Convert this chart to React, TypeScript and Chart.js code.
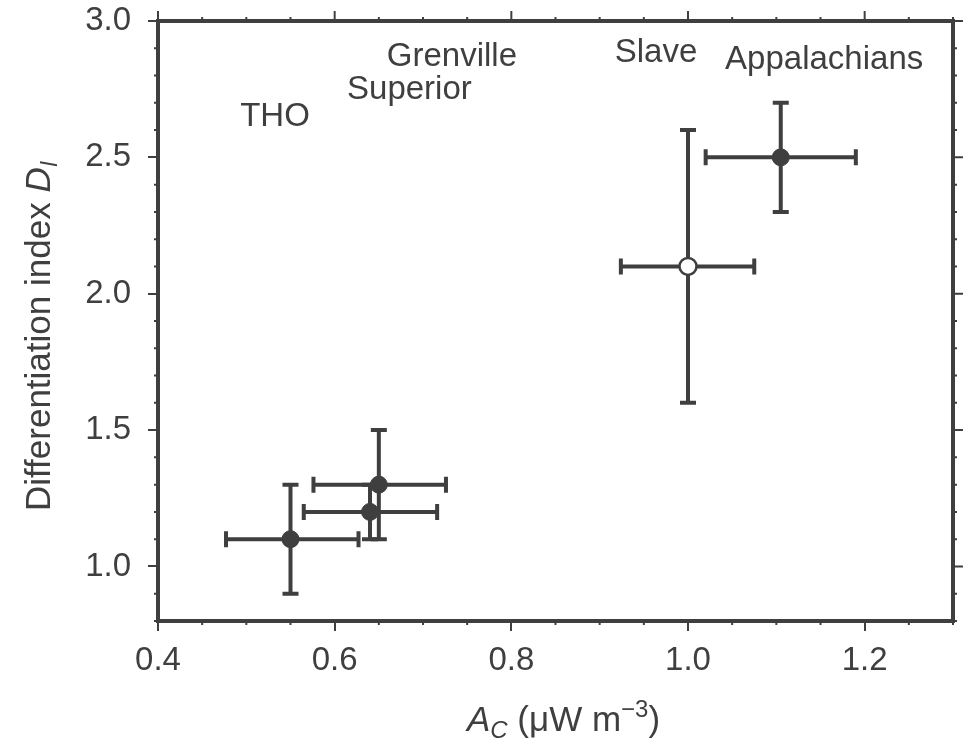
import React, { useEffect, useRef } from 'react';
import { Chart, registerables } from 'chart.js';

Chart.register(...registerables);

// ---- data ----
const regionNames = ['THO', 'Superior', 'Grenville', 'Slave', 'Appalachians'];
const acValues = [0.55, 0.64, 0.65, 1.0, 1.105];
const diValues = [1.1, 1.2, 1.3, 2.1, 2.5];
const acLow = [0.477, 0.565, 0.576, 0.924, 1.02];
const acHigh = [0.627, 0.716, 0.726, 1.075, 1.19];
const diLow = [0.9, 1.1, 1.1, 1.6, 2.3];
const diHigh = [1.3, 1.3, 1.5, 2.6, 2.7];
const openMarker = [false, false, false, true, false];

const labelTexts = ['THO', 'Grenville', 'Superior', 'Slave', 'Appalachians'];
const labelAc = [0.493, 0.659, 0.614, 0.917, 1.042];
const labelDi = [2.614, 2.835, 2.714, 2.85, 2.824];

const xTickValues = [0.4, 0.6, 0.8, 1.0, 1.2];
const yTickValues = [1.0, 1.5, 2.0, 2.5, 3.0];
const xMinorStep = 0.05;
const yMinorStep = 0.1;

const INK = '#3f3f3f';
const FONT = '"Liberation Sans", Arial, Helvetica, sans-serif';

const decorPlugin = {
  id: 'decor',
  beforeDatasetsDraw(chart: any) {
    const ctx = chart.ctx;
    const xs = chart.scales.x;
    const ys = chart.scales.y;
    ctx.save();
    ctx.strokeStyle = INK;
    ctx.lineWidth = 4;
    const cap = 8;
    for (let i = 0; i < acValues.length; i++) {
      const px = xs.getPixelForValue(acValues[i]);
      const py = ys.getPixelForValue(diValues[i]);
      const x1 = xs.getPixelForValue(acLow[i]);
      const x2 = xs.getPixelForValue(acHigh[i]);
      const y1 = ys.getPixelForValue(diLow[i]);
      const y2 = ys.getPixelForValue(diHigh[i]);
      ctx.beginPath();
      ctx.moveTo(x1, py); ctx.lineTo(x2, py);
      ctx.moveTo(x1, py - cap); ctx.lineTo(x1, py + cap);
      ctx.moveTo(x2, py - cap); ctx.lineTo(x2, py + cap);
      ctx.moveTo(px, y1); ctx.lineTo(px, y2);
      ctx.moveTo(px - cap, y1); ctx.lineTo(px + cap, y1);
      ctx.moveTo(px - cap, y2); ctx.lineTo(px + cap, y2);
      ctx.stroke();
    }
    ctx.restore();
  },
  afterDraw(chart: any) {
    const ctx = chart.ctx;
    const xs = chart.scales.x;
    const ys = chart.scales.y;
    const a = chart.chartArea;
    ctx.save();
    ctx.strokeStyle = INK;
    // frame
    ctx.lineWidth = 4;
    ctx.strokeRect(a.left, a.top, a.right - a.left, a.bottom - a.top);
    // minor ticks + mirrored ticks
    ctx.lineWidth = 2;
    ctx.beginPath();
    const nx = Math.round((xs.max - xs.min) / xMinorStep);
    for (let k = 0; k <= nx; k++) {
      const v = xs.min + k * xMinorStep;
      const major = xTickValues.some((t) => Math.abs(t - v) < 1e-6);
      const len = major ? 10 : 4;
      const p = xs.getPixelForValue(v);
      if (!major) { ctx.moveTo(p, a.bottom); ctx.lineTo(p, a.bottom + len); }
      ctx.moveTo(p, a.top); ctx.lineTo(p, a.top - len);
    }
    const ny = Math.round((ys.max - ys.min) / yMinorStep);
    for (let k = 0; k <= ny; k++) {
      const v = ys.min + k * yMinorStep;
      const major = yTickValues.some((t) => Math.abs(t - v) < 1e-6);
      const len = major ? 10 : 4;
      const p = ys.getPixelForValue(v);
      if (!major) { ctx.moveTo(a.left, p); ctx.lineTo(a.left - len, p); }
      ctx.moveTo(a.right, p); ctx.lineTo(a.right + len, p);
    }
    ctx.stroke();

    // region labels
    ctx.fillStyle = INK;
    ctx.font = `33px ${FONT}`;
    ctx.textAlign = 'left';
    ctx.textBaseline = 'alphabetic';
    for (let i = 0; i < labelTexts.length; i++) {
      ctx.fillText(labelTexts[i], xs.getPixelForValue(labelAc[i]), ys.getPixelForValue(labelDi[i]));
    }

    // x axis title: A_C (µW m^-3)
    const big = 35, small = 24;
    const parts: [string, string, number][] = [
      ['A', `italic ${big}px ${FONT}`, 0],
      ['C', `italic ${small}px ${FONT}`, 7],
      [' (\u03BCW m', `${big}px ${FONT}`, 0],
      ['\u22123', `${small}px ${FONT}`, -14],
      [')', `${big}px ${FONT}`, 0],
    ];
    let total = 0;
    for (const [t, f] of parts) { ctx.font = f; total += ctx.measureText(t).width; }
    let cx = (a.left + a.right) / 2 + 8 - total / 2;
    const baseY = 731;
    for (const [t, f, dy] of parts) {
      ctx.font = f;
      ctx.fillText(t, cx, baseY + dy);
      cx += ctx.measureText(t).width;
    }

    // y axis title: Differentiation index D_I
    ctx.save();
    ctx.translate(50, 336);
    ctx.rotate(-Math.PI / 2);
    const yparts: [string, string, number][] = [
      ['Differentiation index ', `35px ${FONT}`, 0],
      ['D', `italic 35px ${FONT}`, 0],
      ['I', `italic 23px ${FONT}`, 7],
    ];
    let ytot = 0;
    for (const [t, f] of yparts) { ctx.font = f; ytot += ctx.measureText(t).width; }
    let lx = -ytot / 2;
    for (const [t, f, dy] of yparts) {
      ctx.font = f;
      ctx.fillText(t, lx, dy);
      lx += ctx.measureText(t).width;
    }
    ctx.restore();

    ctx.restore();
  },
};

const zeroPad = (s: any) => {
  s.paddingTop = 0;
  s.paddingBottom = 0;
  s.paddingLeft = 0;
  s.paddingRight = 0;
};

export default function App() {
  const canvasRef = useRef<HTMLCanvasElement | null>(null);

  useEffect(() => {
    const canvas = canvasRef.current;
    if (!canvas) return;
    const chart = new Chart(canvas, {
      type: 'scatter',
      data: {
        datasets: [
          {
            label: 'Regions',
            data: acValues.map((x, i) => ({ x, y: diValues[i] })),
            pointRadius: 8.5,
            pointHoverRadius: 8.5,
            pointBackgroundColor: openMarker.map((o) => (o ? '#ffffff' : INK)),
            pointBorderColor: INK,
            pointBorderWidth: openMarker.map((o) => (o ? 2.5 : 1)),
          },
        ],
      },
      options: {
        animation: false,
        responsive: false,
        devicePixelRatio: 1,
        layout: { padding: { top: 21, right: 20, left: 0, bottom: 0 } },
        plugins: { legend: { display: false }, tooltip: { enabled: false } },
        scales: {
          x: {
            type: 'linear',
            min: 0.4,
            max: 1.3,
            afterBuildTicks: (s: any) => { s.ticks = xTickValues.map((v) => ({ value: v })); },
            afterFit: (s: any) => { s.height = 120; zeroPad(s); },
            border: { display: false },
            grid: { drawOnChartArea: false, drawTicks: true, tickLength: 10, color: INK, lineWidth: 2 },
            ticks: {
              color: INK,
              font: { family: FONT, size: 33 },
              padding: 10,
              maxRotation: 0,
              callback: (v: any) => Number(v).toFixed(1),
            },
          },
          y: {
            type: 'linear',
            min: 0.8,
            max: 3.0,
            afterBuildTicks: (s: any) => { s.ticks = yTickValues.map((v) => ({ value: v })); },
            afterFit: (s: any) => { s.width = 158; zeroPad(s); },
            border: { display: false },
            grid: { drawOnChartArea: false, drawTicks: true, tickLength: 10, color: INK, lineWidth: 2 },
            ticks: {
              color: INK,
              font: { family: FONT, size: 33 },
              padding: 17,
              callback: (v: any) => Number(v).toFixed(1),
            },
          },
        },
      },
      plugins: [decorPlugin],
    });
    return () => chart.destroy();
  }, []);

  return (
    <div style={{ position: 'fixed', left: 0, top: 0, width: 973, height: 741, background: '#fff' }}>
      <canvas ref={canvasRef} width={973} height={741} style={{ display: 'block' }} />
    </div>
  );
}
